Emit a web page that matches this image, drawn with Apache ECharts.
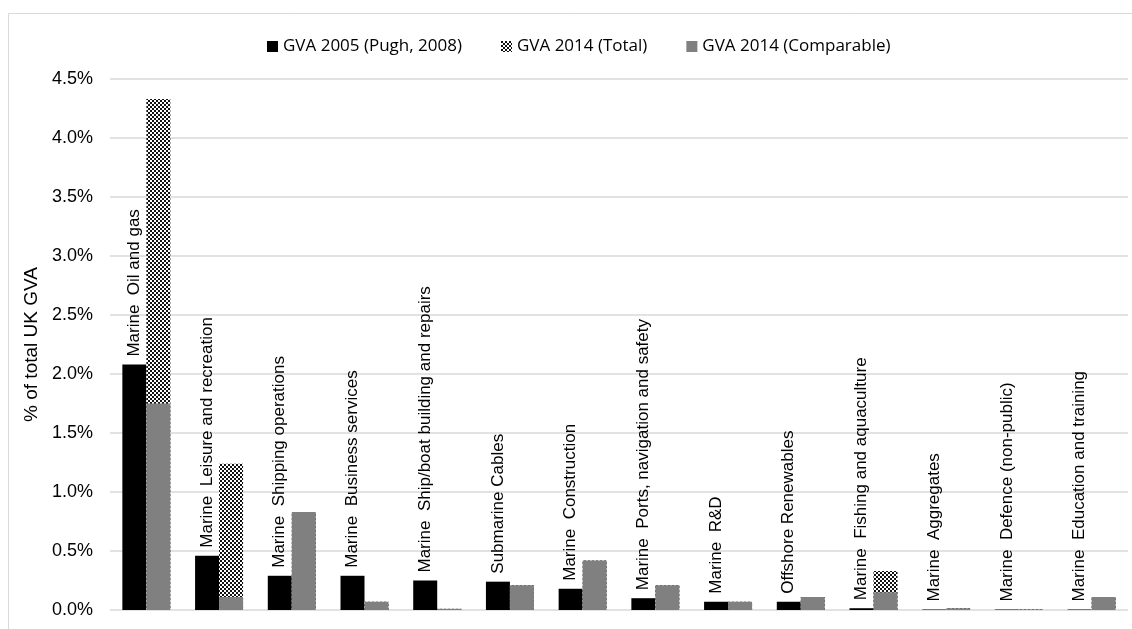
<!DOCTYPE html>
<html>
<head>
<meta charset="utf-8">
<script src="https://cdn.jsdelivr.net/npm/echarts@6/dist/echarts.min.js"></script>
<style>
html,body{margin:0;padding:0;background:#fff;}
#chart{width:1132px;height:629px;}
</style>
</head>
<body>
<div id="chart"></div>
<script>
var categories = [
  "Marine  Oil and gas",
  "Marine  Leisure and recreation",
  "Marine  Shipping operations",
  "Marine  Business services",
  "Marine  Ship/boat building and repairs",
  "Submarine Cables",
  "Marine  Construction",
  "Marine  Ports, navigation and safety",
  "Marine  R&D",
  "Offshore Renewables",
  "Marine  Fishing and aquaculture",
  "Marine  Aggregates",
  "Marine  Defence (non-public)",
  "Marine  Education and training"
];
var gva2005 = [2.08, 0.46, 0.29, 0.29, 0.25, 0.24, 0.18, 0.10, 0.07, 0.07, 0.015, 0.004, 0.004, 0.004];
var gva2014Total = [4.33, 1.24, 0.83, 0.07, 0.01, 0.21, 0.42, 0.21, 0.07, 0.11, 0.33, 0.015, 0.006, 0.11];
var gva2014Comparable = [1.75, 0.11, 0.83, 0.07, 0.01, 0.21, 0.42, 0.21, 0.07, 0.11, 0.15, 0.015, 0.006, 0.11];
var yTicks = { min: 0, max: 4.5, interval: 0.5 };
var seriesNames = ["GVA 2005 (Pugh, 2008)", "GVA 2014 (Total)", "GVA 2014 (Comparable)"];

function checker() {
  var c = document.createElement('canvas');
  c.width = 4; c.height = 4;
  var ctx = c.getContext('2d');
  ctx.fillStyle = '#ffffff';
  ctx.fillRect(0, 0, 4, 4);
  ctx.fillStyle = '#111111';
  ctx.fillRect(0, 0, 2, 2);
  ctx.fillRect(2, 2, 2, 2);
  return { image: c, repeat: 'repeat' };
}
var pattern = checker();

var chart = echarts.init(document.getElementById('chart'), null, { renderer: 'canvas' });
var dummy = categories.map(function () { return '-'; });

var option = {
  animation: false,
  backgroundColor: '#ffffff',
  graphic: [{
    type: 'rect',
    shape: { x: 8.5, y: 13.5, width: 1140, height: 640 },
    style: { fill: 'none', stroke: '#d9d9d9', lineWidth: 1 },
    silent: true
  }],
  legend: {
    data: seriesNames,
    left: 262,
    top: 33,
    itemWidth: 11,
    itemHeight: 11,
    itemGap: 39,
    icon: 'rect',
    textStyle: { fontFamily: 'Open Sans', fontSize: 17, color: '#000' }
  },
  grid: { left: 110, right: 4, top: 79, bottom: 19, containLabel: false },
  xAxis: [{
    type: 'category',
    data: categories,
    axisLine: { show: false },
    axisTick: { show: false },
    axisLabel: { show: false }
  }, {
    type: 'category',
    data: categories,
    show: false
  }],
  yAxis: {
    type: 'value',
    min: yTicks.min,
    max: yTicks.max,
    interval: yTicks.interval,
    name: '% of total UK GVA',
    nameLocation: 'middle',
    nameGap: 69,
    nameTextStyle: { fontFamily: 'Liberation Sans', fontSize: 19, color: '#000' },
    axisLine: { show: false },
    axisTick: { show: false },
    axisLabel: {
      margin: 17,
      fontFamily: 'Liberation Sans',
      fontSize: 18,
      color: '#000',
      formatter: function (v) { return v.toFixed(1) + '%'; }
    },
    splitLine: { lineStyle: { color: '#d9d9d9', width: 1.5 } }
  },
  series: [{
    name: seriesNames[0],
    type: 'bar',
    xAxisIndex: 0,
    data: gva2005,
    barWidth: 24,
    barGap: '0%',
    itemStyle: { color: '#000000' },
    label: {
      show: true,
      position: 'top',
      rotate: 90,
      align: 'left',
      verticalAlign: 'middle',
      distance: 8,
      fontFamily: 'Liberation Sans',
      fontSize: 17,
      color: '#000',
      formatter: function (p) { return p.name; }
    }
  }, {
    name: seriesNames[1],
    type: 'bar',
    xAxisIndex: 0,
    data: gva2014Total,
    barWidth: 24,
    barGap: '0%',
    itemStyle: { color: pattern }
  }, {
    type: 'bar',
    xAxisIndex: 1,
    data: dummy,
    barWidth: 24,
    barGap: '0%',
    silent: true
  }, {
    name: seriesNames[2],
    type: 'bar',
    xAxisIndex: 1,
    data: gva2014Comparable,
    barWidth: 24,
    barGap: '0%',
    itemStyle: { color: '#808080' }
  }]
};
chart.setOption(option);
</script>
</body>
</html>
